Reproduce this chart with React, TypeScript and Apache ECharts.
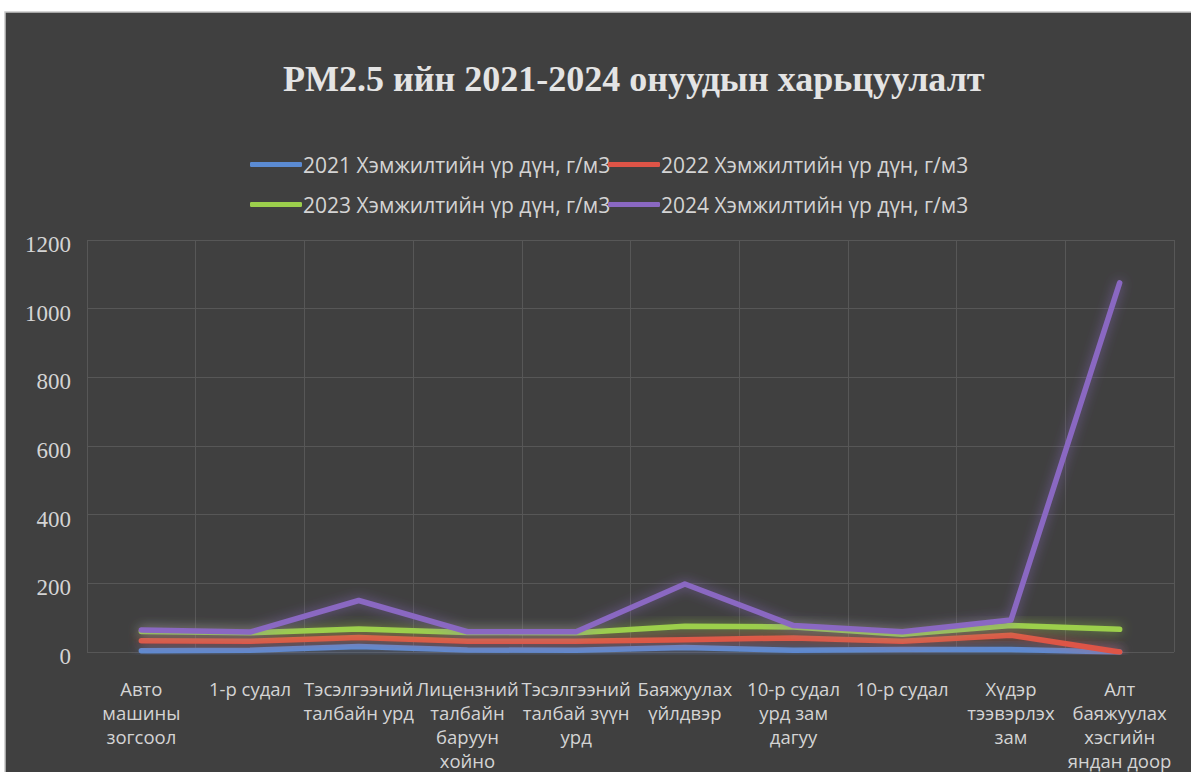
import React, { useEffect, useRef } from "react";
import * as echarts from "echarts";

const categories = [
  "Авто\nмашины\nзогсоол",
  "1-р судал",
  "Тэсэлгээний\nталбайн урд",
  "Лицензний\nталбайн\nбаруун\nхойно",
  "Тэсэлгээний\nталбай зүүн\nурд",
  "Баяжуулах\nүйлдвэр",
  "10-р судал\nурд зам\nдагуу",
  "10-р судал",
  "Хүдэр\nтээвэрлэх\nзам",
  "Алт\nбаяжуулах\nхэсгийн\nяндан доор",
];

const seriesNames = [
  "2021 Хэмжилтийн үр дүн, г/м3",
  "2022 Хэмжилтийн үр дүн, г/м3",
  "2023 Хэмжилтийн үр дүн, г/м3",
  "2024 Хэмжилтийн үр дүн, г/м3",
];

const values2021 = [4, 5, 16, 6, 5, 13, 5, 7, 7, 0];
const values2022 = [33, 31, 42, 31, 31, 36, 41, 31, 49, 0];
const values2023 = [60, 56, 67, 57, 56, 75, 73, 52, 77, 66];
const values2024 = [64, 58, 150, 59, 59, 198, 77, 59, 93, 1075];

const yTicks = { min: 0, max: 1200, interval: 200 };

const colors = ["#5b8bd3", "#de5447", "#9ccf4c", "#8a68c2"];

export default function App() {
  const ref = useRef<HTMLDivElement>(null);
  useEffect(() => {
    if (!ref.current) return;
    const chart = echarts.init(ref.current, null, { renderer: "svg" });
    const allValues = [values2021, values2022, values2023, values2024];
    const legendPos = [
      { left: 245, top: 149 },
      { left: 603, top: 149 },
      { left: 245, top: 189 },
      { left: 603, top: 189 },
    ];
    chart.setOption({
      animation: false,
      backgroundColor: "#ffffff",
      graphic: [
        {
          type: "rect",
          shape: { x: 5, y: 12, width: 1190, height: 765 },
          style: { fill: "#404040", stroke: "#c8c8c8", lineWidth: 1.5 },
          z: -10,
        },
      ],
      title: {
        text: "PM2.5 ийн 2021-2024 онуудын харьцуулалт",
        left: 278,
        top: 56,
        textStyle: {
          fontFamily: "Liberation Serif",
          fontWeight: "bold",
          fontSize: 36,
          color: "#e4e4e4",
        },
      },
      legend: seriesNames.map((name, i) => ({
        data: [name],
        left: legendPos[i].left,
        top: legendPos[i].top,
        itemWidth: 52,
        itemHeight: 5,
        itemGap: 0,
        icon: "roundRect",
        textStyle: {
          fontFamily: "Open Sans",
          fontSize: 21,
          color: "#d4d4d4",
          padding: [0, 0, 0, -4],
        },
        itemStyle: { shadowBlur: 0 },
      })),
      grid: { left: 87, right: 17, top: 240, bottom: 120, outerBoundsMode: "none" },
      xAxis: {
        type: "category",
        data: categories,
        boundaryGap: true,
        axisLine: { show: false },
        axisTick: { show: false },
        splitLine: { show: true, lineStyle: { color: "#575757", width: 1 } },
        axisLabel: {
          interval: 0,
          margin: 24,
          fontFamily: "Open Sans",
          fontSize: 18.5,
          lineHeight: 24,
          color: "#d4d4d4",
          align: "center",
        },
      },
      yAxis: {
        type: "value",
        min: yTicks.min,
        max: yTicks.max,
        interval: yTicks.interval,
        axisLine: { show: false },
        axisTick: { show: false },
        splitLine: { lineStyle: { color: "#575757", width: 1 } },
        axisLabel: {
          margin: 16,
          fontFamily: "'Liberation Serif', 'DejaVu Serif', serif",
          fontSize: 23,
          color: "#d4d4d4",
          verticalAlign: "top",
          padding: [-7, 0, 0, 0],
          formatter: (v: number) => String(v),
        },
      },
      series: allValues.map((vals, i) => ({
        name: seriesNames[i],
        type: "line",
        data: vals,
        symbol: "none",
        color: colors[i],
        lineStyle: {
          width: 5.5,
          color: colors[i],
          cap: "round",
          join: "round",
          shadowBlur: 12,
          shadowColor: colors[i] + "aa",
        },
        z: 2 + i,
      })),
    });
    return () => chart.dispose();
  }, []);
  return (
    <div
      ref={ref}
      style={{ position: "fixed", left: 0, top: 0, width: 1191, height: 772 }}
    />
  );
}
